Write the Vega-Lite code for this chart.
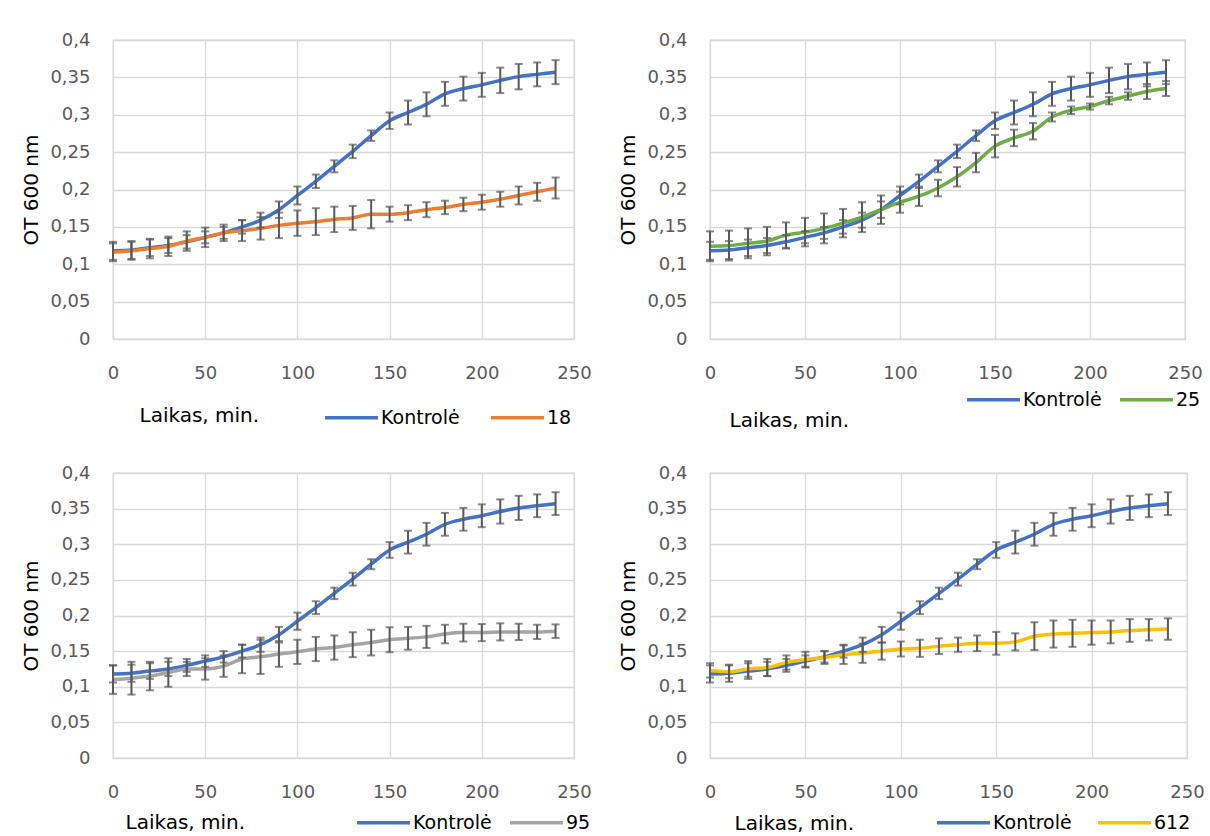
{
  "$schema": "https://vega.github.io/schema/vega-lite/v6.json",
  "padding": {"left": 21, "top": 30, "right": 0, "bottom": 0},
  "background": "#ffffff",
  "datasets": {
    "kontrole": [
      {"series": "Kontrolė", "t": 0, "y": 0.118, "sd": 0.012},
      {"series": "Kontrolė", "t": 10, "y": 0.119, "sd": 0.012},
      {"series": "Kontrolė", "t": 20, "y": 0.122, "sd": 0.011},
      {"series": "Kontrolė", "t": 30, "y": 0.125, "sd": 0.010},
      {"series": "Kontrolė", "t": 40, "y": 0.130, "sd": 0.009},
      {"series": "Kontrolė", "t": 50, "y": 0.136, "sd": 0.008},
      {"series": "Kontrolė", "t": 60, "y": 0.142, "sd": 0.008},
      {"series": "Kontrolė", "t": 70, "y": 0.150, "sd": 0.009},
      {"series": "Kontrolė", "t": 80, "y": 0.159, "sd": 0.010},
      {"series": "Kontrolė", "t": 90, "y": 0.173, "sd": 0.011},
      {"series": "Kontrolė", "t": 100, "y": 0.192, "sd": 0.012},
      {"series": "Kontrolė", "t": 110, "y": 0.211, "sd": 0.009},
      {"series": "Kontrolė", "t": 120, "y": 0.231, "sd": 0.008},
      {"series": "Kontrolė", "t": 130, "y": 0.251, "sd": 0.009},
      {"series": "Kontrolė", "t": 140, "y": 0.272, "sd": 0.007},
      {"series": "Kontrolė", "t": 150, "y": 0.292, "sd": 0.011},
      {"series": "Kontrolė", "t": 160, "y": 0.303, "sd": 0.016},
      {"series": "Kontrolė", "t": 170, "y": 0.314, "sd": 0.016},
      {"series": "Kontrolė", "t": 180, "y": 0.328, "sd": 0.016},
      {"series": "Kontrolė", "t": 190, "y": 0.335, "sd": 0.016},
      {"series": "Kontrolė", "t": 200, "y": 0.340, "sd": 0.016},
      {"series": "Kontrolė", "t": 210, "y": 0.346, "sd": 0.017},
      {"series": "Kontrolė", "t": 220, "y": 0.351, "sd": 0.017},
      {"series": "Kontrolė", "t": 230, "y": 0.354, "sd": 0.016},
      {"series": "Kontrolė", "t": 240, "y": 0.357, "sd": 0.016}
    ],
    "s18": [
      {"series": "18", "t": 0, "y": 0.116, "sd": 0.012},
      {"series": "18", "t": 10, "y": 0.118, "sd": 0.012},
      {"series": "18", "t": 20, "y": 0.121, "sd": 0.013},
      {"series": "18", "t": 30, "y": 0.124, "sd": 0.013},
      {"series": "18", "t": 40, "y": 0.131, "sd": 0.013},
      {"series": "18", "t": 50, "y": 0.136, "sd": 0.013},
      {"series": "18", "t": 60, "y": 0.142, "sd": 0.011},
      {"series": "18", "t": 70, "y": 0.145, "sd": 0.014},
      {"series": "18", "t": 80, "y": 0.148, "sd": 0.015},
      {"series": "18", "t": 90, "y": 0.152, "sd": 0.017},
      {"series": "18", "t": 100, "y": 0.155, "sd": 0.017},
      {"series": "18", "t": 110, "y": 0.157, "sd": 0.018},
      {"series": "18", "t": 120, "y": 0.160, "sd": 0.017},
      {"series": "18", "t": 130, "y": 0.162, "sd": 0.016},
      {"series": "18", "t": 140, "y": 0.167, "sd": 0.019},
      {"series": "18", "t": 150, "y": 0.167, "sd": 0.010},
      {"series": "18", "t": 160, "y": 0.169, "sd": 0.010},
      {"series": "18", "t": 170, "y": 0.173, "sd": 0.010},
      {"series": "18", "t": 180, "y": 0.176, "sd": 0.009},
      {"series": "18", "t": 190, "y": 0.180, "sd": 0.009},
      {"series": "18", "t": 200, "y": 0.183, "sd": 0.010},
      {"series": "18", "t": 210, "y": 0.187, "sd": 0.010},
      {"series": "18", "t": 220, "y": 0.192, "sd": 0.012},
      {"series": "18", "t": 230, "y": 0.197, "sd": 0.012},
      {"series": "18", "t": 240, "y": 0.202, "sd": 0.014}
    ],
    "s25": [
      {"series": "25", "t": 0, "y": 0.124, "sd": 0.020},
      {"series": "25", "t": 10, "y": 0.125, "sd": 0.020},
      {"series": "25", "t": 20, "y": 0.128, "sd": 0.020},
      {"series": "25", "t": 30, "y": 0.131, "sd": 0.019},
      {"series": "25", "t": 40, "y": 0.139, "sd": 0.017},
      {"series": "25", "t": 50, "y": 0.143, "sd": 0.019},
      {"series": "25", "t": 60, "y": 0.148, "sd": 0.020},
      {"series": "25", "t": 70, "y": 0.155, "sd": 0.019},
      {"series": "25", "t": 80, "y": 0.163, "sd": 0.020},
      {"series": "25", "t": 90, "y": 0.173, "sd": 0.019},
      {"series": "25", "t": 100, "y": 0.183, "sd": 0.014},
      {"series": "25", "t": 110, "y": 0.191, "sd": 0.013},
      {"series": "25", "t": 120, "y": 0.202, "sd": 0.011},
      {"series": "25", "t": 130, "y": 0.217, "sd": 0.013},
      {"series": "25", "t": 140, "y": 0.236, "sd": 0.013},
      {"series": "25", "t": 150, "y": 0.258, "sd": 0.015},
      {"series": "25", "t": 160, "y": 0.269, "sd": 0.011},
      {"series": "25", "t": 170, "y": 0.278, "sd": 0.011},
      {"series": "25", "t": 180, "y": 0.297, "sd": 0.006},
      {"series": "25", "t": 190, "y": 0.306, "sd": 0.005},
      {"series": "25", "t": 200, "y": 0.311, "sd": 0.004},
      {"series": "25", "t": 210, "y": 0.319, "sd": 0.005},
      {"series": "25", "t": 220, "y": 0.325, "sd": 0.005},
      {"series": "25", "t": 230, "y": 0.331, "sd": 0.010},
      {"series": "25", "t": 240, "y": 0.335, "sd": 0.010}
    ],
    "s95": [
      {"series": "95", "t": 0, "y": 0.110, "sd": 0.020},
      {"series": "95", "t": 10, "y": 0.112, "sd": 0.023},
      {"series": "95", "t": 20, "y": 0.115, "sd": 0.020},
      {"series": "95", "t": 30, "y": 0.120, "sd": 0.020},
      {"series": "95", "t": 40, "y": 0.125, "sd": 0.010},
      {"series": "95", "t": 50, "y": 0.125, "sd": 0.015},
      {"series": "95", "t": 60, "y": 0.129, "sd": 0.015},
      {"series": "95", "t": 70, "y": 0.139, "sd": 0.020},
      {"series": "95", "t": 80, "y": 0.142, "sd": 0.024},
      {"series": "95", "t": 90, "y": 0.146, "sd": 0.018},
      {"series": "95", "t": 100, "y": 0.149, "sd": 0.017},
      {"series": "95", "t": 110, "y": 0.153, "sd": 0.017},
      {"series": "95", "t": 120, "y": 0.155, "sd": 0.017},
      {"series": "95", "t": 130, "y": 0.159, "sd": 0.0175},
      {"series": "95", "t": 140, "y": 0.162, "sd": 0.018},
      {"series": "95", "t": 150, "y": 0.166, "sd": 0.0175},
      {"series": "95", "t": 160, "y": 0.168, "sd": 0.016},
      {"series": "95", "t": 170, "y": 0.170, "sd": 0.0155},
      {"series": "95", "t": 180, "y": 0.174, "sd": 0.013},
      {"series": "95", "t": 190, "y": 0.176, "sd": 0.0125},
      {"series": "95", "t": 200, "y": 0.176, "sd": 0.012},
      {"series": "95", "t": 210, "y": 0.177, "sd": 0.012},
      {"series": "95", "t": 220, "y": 0.177, "sd": 0.0115},
      {"series": "95", "t": 230, "y": 0.177, "sd": 0.010},
      {"series": "95", "t": 240, "y": 0.178, "sd": 0.0095}
    ],
    "s612": [
      {"series": "612", "t": 0, "y": 0.123, "sd": 0.010},
      {"series": "612", "t": 10, "y": 0.121, "sd": 0.009},
      {"series": "612", "t": 20, "y": 0.125, "sd": 0.011},
      {"series": "612", "t": 30, "y": 0.127, "sd": 0.012},
      {"series": "612", "t": 40, "y": 0.134, "sd": 0.010},
      {"series": "612", "t": 50, "y": 0.138, "sd": 0.011},
      {"series": "612", "t": 60, "y": 0.141, "sd": 0.009},
      {"series": "612", "t": 70, "y": 0.145, "sd": 0.013},
      {"series": "612", "t": 80, "y": 0.147, "sd": 0.0135},
      {"series": "612", "t": 90, "y": 0.150, "sd": 0.012},
      {"series": "612", "t": 100, "y": 0.153, "sd": 0.0105},
      {"series": "612", "t": 110, "y": 0.154, "sd": 0.012},
      {"series": "612", "t": 120, "y": 0.157, "sd": 0.011},
      {"series": "612", "t": 130, "y": 0.159, "sd": 0.010},
      {"series": "612", "t": 140, "y": 0.161, "sd": 0.011},
      {"series": "612", "t": 150, "y": 0.161, "sd": 0.016},
      {"series": "612", "t": 160, "y": 0.163, "sd": 0.012},
      {"series": "612", "t": 170, "y": 0.171, "sd": 0.0195},
      {"series": "612", "t": 180, "y": 0.174, "sd": 0.019},
      {"series": "612", "t": 190, "y": 0.175, "sd": 0.019},
      {"series": "612", "t": 200, "y": 0.176, "sd": 0.017},
      {"series": "612", "t": 210, "y": 0.177, "sd": 0.016},
      {"series": "612", "t": 220, "y": 0.179, "sd": 0.016},
      {"series": "612", "t": 230, "y": 0.180, "sd": 0.015},
      {"series": "612", "t": 240, "y": 0.181, "sd": 0.015}
    ]
  },
  "concat": [
    {
      "width": 461, "height": 299,
      "encoding": {
        "x": {"field": "t", "type": "quantitative", "scale": {"domain": [0, 250], "nice": false},
          "axis": {"values": [0, 50, 100, 150, 200, 250], "title": "Laikas, min.", "titleAnchor": "start", "titleAlign": "left", "titleBaseline": "middle", "titleX": 26, "titleY": 76}},
        "y": {"field": "y", "type": "quantitative", "scale": {"domain": [0, 0.4], "nice": false},
          "axis": {"values": [0, 0.05, 0.1, 0.15, 0.2, 0.25, 0.3, 0.35, 0.4], "title": "OT 600 nm", "labelExpr": "replace(format(datum.value, '.2~f'), '.', ',')"}}
      },
      "layer": [
        {"data": {"name": "kontrole"}, "mark": {"type": "line", "interpolate": "monotone", "strokeWidth": 3.5},
          "encoding": {"color": {"field": "series", "type": "nominal", "scale": {"domain": ["Kontrolė", "18"], "range": ["#4472C4", "#ED7D31"]},
            "legend": {"title": null, "legendX": 210, "legendY": 349, "columnPadding": 24}}}},
        {"data": {"name": "s18"}, "mark": {"type": "line", "interpolate": "monotone", "strokeWidth": 3.5},
          "encoding": {"color": {"field": "series", "type": "nominal"}}},
        {"data": {"name": "kontrole"}, "mark": {"type": "errorbar", "ticks": true, "size": 8, "thickness": 2, "color": "#595959"},
          "encoding": {"yError": {"field": "sd"}}},
        {"data": {"name": "s18"}, "mark": {"type": "errorbar", "ticks": true, "size": 8, "thickness": 2, "color": "#595959"},
          "encoding": {"yError": {"field": "sd"}}}
      ]
    },
    {
      "width": 475, "height": 299,
      "encoding": {
        "x": {"field": "t", "type": "quantitative", "scale": {"domain": [0, 250], "nice": false},
          "axis": {"values": [0, 50, 100, 150, 200, 250], "title": "Laikas, min.", "titleAnchor": "start", "titleAlign": "left", "titleBaseline": "middle", "titleX": 19, "titleY": 81}},
        "y": {"field": "y", "type": "quantitative", "scale": {"domain": [0, 0.4], "nice": false},
          "axis": {"values": [0, 0.05, 0.1, 0.15, 0.2, 0.25, 0.3, 0.35, 0.4], "title": "OT 600 nm", "labelExpr": "replace(format(datum.value, '.2~f'), '.', ',')"}}
      },
      "layer": [
        {"data": {"name": "kontrole"}, "mark": {"type": "line", "interpolate": "monotone", "strokeWidth": 3.5},
          "encoding": {"color": {"field": "series", "type": "nominal", "scale": {"domain": ["Kontrolė", "25"], "range": ["#4472C4", "#70AD47"]},
            "legend": {"title": null, "legendX": 255, "legendY": 331, "columnPadding": 11}}}},
        {"data": {"name": "s25"}, "mark": {"type": "line", "interpolate": "monotone", "strokeWidth": 3.5},
          "encoding": {"color": {"field": "series", "type": "nominal"}}},
        {"data": {"name": "kontrole"}, "mark": {"type": "errorbar", "ticks": true, "size": 8, "thickness": 2, "color": "#595959"},
          "encoding": {"yError": {"field": "sd"}}},
        {"data": {"name": "s25"}, "mark": {"type": "errorbar", "ticks": true, "size": 8, "thickness": 2, "color": "#595959"},
          "encoding": {"yError": {"field": "sd"}}}
      ]
    },
    {
      "width": 461, "height": 285,
      "encoding": {
        "x": {"field": "t", "type": "quantitative", "scale": {"domain": [0, 250], "nice": false},
          "axis": {"values": [0, 50, 100, 150, 200, 250], "title": "Laikas, min.", "titleAnchor": "start", "titleAlign": "left", "titleBaseline": "middle", "titleX": 12, "titleY": 64}},
        "y": {"field": "y", "type": "quantitative", "scale": {"domain": [0, 0.4], "nice": false},
          "axis": {"values": [0, 0.05, 0.1, 0.15, 0.2, 0.25, 0.3, 0.35, 0.4], "title": "OT 600 nm", "labelExpr": "replace(format(datum.value, '.2~f'), '.', ',')"}}
      },
      "layer": [
        {"data": {"name": "kontrole"}, "mark": {"type": "line", "interpolate": "monotone", "strokeWidth": 3.5},
          "encoding": {"color": {"field": "series", "type": "nominal", "scale": {"domain": ["Kontrolė", "95"], "range": ["#4472C4", "#A5A5A5"]},
            "legend": {"title": null, "legendX": 242, "legendY": 321, "columnPadding": 11}}}},
        {"data": {"name": "s95"}, "mark": {"type": "line", "interpolate": "monotone", "strokeWidth": 3.5},
          "encoding": {"color": {"field": "series", "type": "nominal"}}},
        {"data": {"name": "kontrole"}, "mark": {"type": "errorbar", "ticks": true, "size": 8, "thickness": 2, "color": "#595959"},
          "encoding": {"yError": {"field": "sd"}}},
        {"data": {"name": "s95"}, "mark": {"type": "errorbar", "ticks": true, "size": 8, "thickness": 2, "color": "#595959"},
          "encoding": {"yError": {"field": "sd"}}}
      ]
    },
    {
      "width": 477, "height": 285,
      "encoding": {
        "x": {"field": "t", "type": "quantitative", "scale": {"domain": [0, 250], "nice": false},
          "axis": {"values": [0, 50, 100, 150, 200, 250], "title": "Laikas, min.", "titleAnchor": "start", "titleAlign": "left", "titleBaseline": "middle", "titleX": 24, "titleY": 65}},
        "y": {"field": "y", "type": "quantitative", "scale": {"domain": [0, 0.4], "nice": false},
          "axis": {"values": [0, 0.05, 0.1, 0.15, 0.2, 0.25, 0.3, 0.35, 0.4], "title": "OT 600 nm", "labelExpr": "replace(format(datum.value, '.2~f'), '.', ',')"}}
      },
      "layer": [
        {"data": {"name": "kontrole"}, "mark": {"type": "line", "interpolate": "monotone", "strokeWidth": 3.5},
          "encoding": {"color": {"field": "series", "type": "nominal", "scale": {"domain": ["Kontrolė", "612"], "range": ["#4472C4", "#FFC000"]},
            "legend": {"title": null, "legendX": 225, "legendY": 321, "columnPadding": 19}}}},
        {"data": {"name": "s612"}, "mark": {"type": "line", "interpolate": "monotone", "strokeWidth": 3.5},
          "encoding": {"color": {"field": "series", "type": "nominal"}}},
        {"data": {"name": "kontrole"}, "mark": {"type": "errorbar", "ticks": true, "size": 8, "thickness": 2, "color": "#595959"},
          "encoding": {"yError": {"field": "sd"}}},
        {"data": {"name": "s612"}, "mark": {"type": "errorbar", "ticks": true, "size": 8, "thickness": 2, "color": "#595959"},
          "encoding": {"yError": {"field": "sd"}}}
      ]
    }
  ],
  "columns": 2,
  "spacing": {"row": 134, "column": 136},
  "bounds": "flush",
  "resolve": {"scale": {"color": "independent"}, "legend": {"color": "independent"}},
  "config": {
    "font": "DejaVu Sans",
    "view": {"stroke": "#d9d9d9", "strokeWidth": 1.3},
    "axis": {
      "grid": true, "gridColor": "#d9d9d9", "gridWidth": 1.3, "domain": false, "ticks": false, "tickSize": 0,
      "labelFont": "DejaVu Sans", "labelFontSize": 18, "labelColor": "#595959",
      "titleFont": "DejaVu Sans", "titleFontSize": 20, "titleColor": "#000000", "titleFontWeight": "normal"
    },
    "axisX": {"labelPadding": 25, "labelFlush": false, "labelOverlap": false},
    "axisY": {"labelPadding": 23, "titlePadding": 8, "labelOverlap": false},
    "legend": {
      "orient": "none", "direction": "horizontal", "symbolType": "stroke", "symbolSize": 2800, "symbolStrokeWidth": 3.5,
      "labelFont": "DejaVu Sans", "labelFontSize": 19, "labelColor": "#000000", "labelOffset": 1, "padding": 0, "symbolOpacity": 1
    }
  }
}
